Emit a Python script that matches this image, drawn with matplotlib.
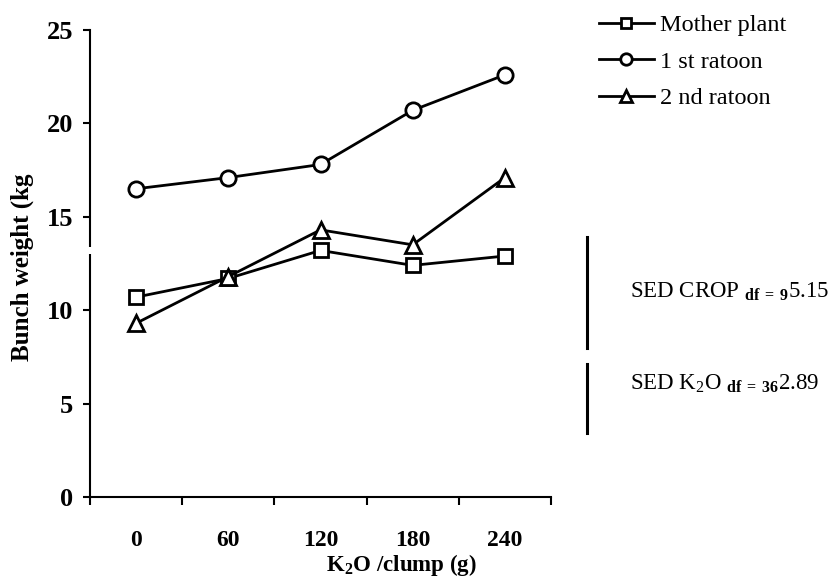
import numpy as np
import matplotlib
matplotlib.use("Agg")
import matplotlib.pyplot as plt
from matplotlib.patches import Rectangle

plt.rcParams['font.family'] = ['Liberation Serif', 'DejaVu Serif']
plt.rcParams['mathtext.fontset'] = 'custom'
plt.rcParams['mathtext.rm'] = 'Liberation Serif'
plt.rcParams['mathtext.bf'] = 'Liberation Serif:bold'

# data
k2o = ['0', '60', '120', '180', '240']
mother = [10.7, 11.7, 13.2, 12.4, 12.9]
ratoon1 = [16.5, 17.1, 17.8, 20.7, 22.6]
ratoon2 = [9.3, 11.8, 14.3, 13.5, 17.1]
series_names = ['Mother plant', '1 st ratoon', '2 nd ratoon']
markers = ['s', 'o', '^']

# SED bars (y extent in data units)
sed_crop = (8.0, 13.9)
sed_k2o = (3.4, 7.1)

fig = plt.figure(figsize=(8.32, 5.78), dpi=100)
ax = fig.add_axes([90 / 832, 1 - 497 / 578, (551 - 90) / 832, (497 - 30) / 578])

x = np.arange(len(k2o)) + 0.5
for vals, m, name in zip([mother, ratoon1, ratoon2], markers, series_names):
    ms = 10 if m == 's' else (11 if m == 'o' else 12)
    ax.plot(x, vals, color='black', lw=2.0, marker=m, ms=ms,
            mfc='white', mec='black', mew=2.0, label=name, clip_on=False)

ax.set_xlim(0, len(k2o))
ax.set_ylim(0, 25)
ax.set_yticks([0, 5, 10, 15, 20, 25])
ax.set_xticks(np.arange(len(k2o) + 1))
ax.set_xticklabels([])
ax.set_xticks(x, minor=True)
ax.set_xticklabels(k2o, minor=True)
ax.tick_params(axis='x', which='minor', length=0, pad=24)
ax.tick_params(axis='x', which='major', length=6, width=1.5, direction='out')
ax.tick_params(axis='y', length=5, width=1.5, direction='out', pad=7)
for lab in ax.get_xticklabels(minor=True):
    lab.set_fontsize(17)
    lab.set_fontweight('bold')
for lab in ax.get_yticklabels():
    lab.set_fontsize(19)
    lab.set_fontweight('bold')

for s in ['top', 'right']:
    ax.spines[s].set_visible(False)
for s in ['left', 'bottom']:
    ax.spines[s].set_linewidth(1.5)

# small break in the y axis from the scan
ax.add_patch(Rectangle((-0.02, 13.0), 0.04, 0.4, transform=ax.get_yaxis_transform(),
                       facecolor='white', edgecolor='none', clip_on=False, zorder=5))

fig.text(22 / 832, 1 - 267 / 578, 'Bunch weight (kg', rotation=90, fontsize=18,
         fontweight='bold', ha='center', va='center')
fig.text(401 / 832, 1 - 571 / 578, r'K$_\mathbf{2}$O /clump (g)', fontsize=16.5,
         fontweight='bold', ha='center', va='baseline')

leg = ax.legend(loc='upper left', bbox_to_anchor=(599 / 832, 1 - 14 / 578),
                bbox_transform=fig.transFigure, frameon=False, fontsize=17.5,
                handlelength=2.25, handletextpad=0.25, labelspacing=0.6,
                markerscale=0.75, borderpad=0, borderaxespad=0)

# SED bars and labels
tr = ax.get_yaxis_transform()
xb = (587 - 90) / (551 - 90)
ax.plot([xb, xb], sed_crop, transform=tr, color='black', lw=2.2, clip_on=False)
ax.plot([xb, xb], sed_k2o, transform=tr, color='black', lw=2.2, clip_on=False)
fig.text(630 / 832, 1 - 297 / 578, r'SED CROP $_{\mathbf{df\,=\,9}}$5.15', fontsize=16.5,
         ha='left', va='baseline')
fig.text(630 / 832, 1 - 389 / 578, r'SED K$_2$O $_{\mathbf{df\,=\,36}}$2.89', fontsize=16.5,
         ha='left', va='baseline')

fig.savefig('out.png', dpi=100)
